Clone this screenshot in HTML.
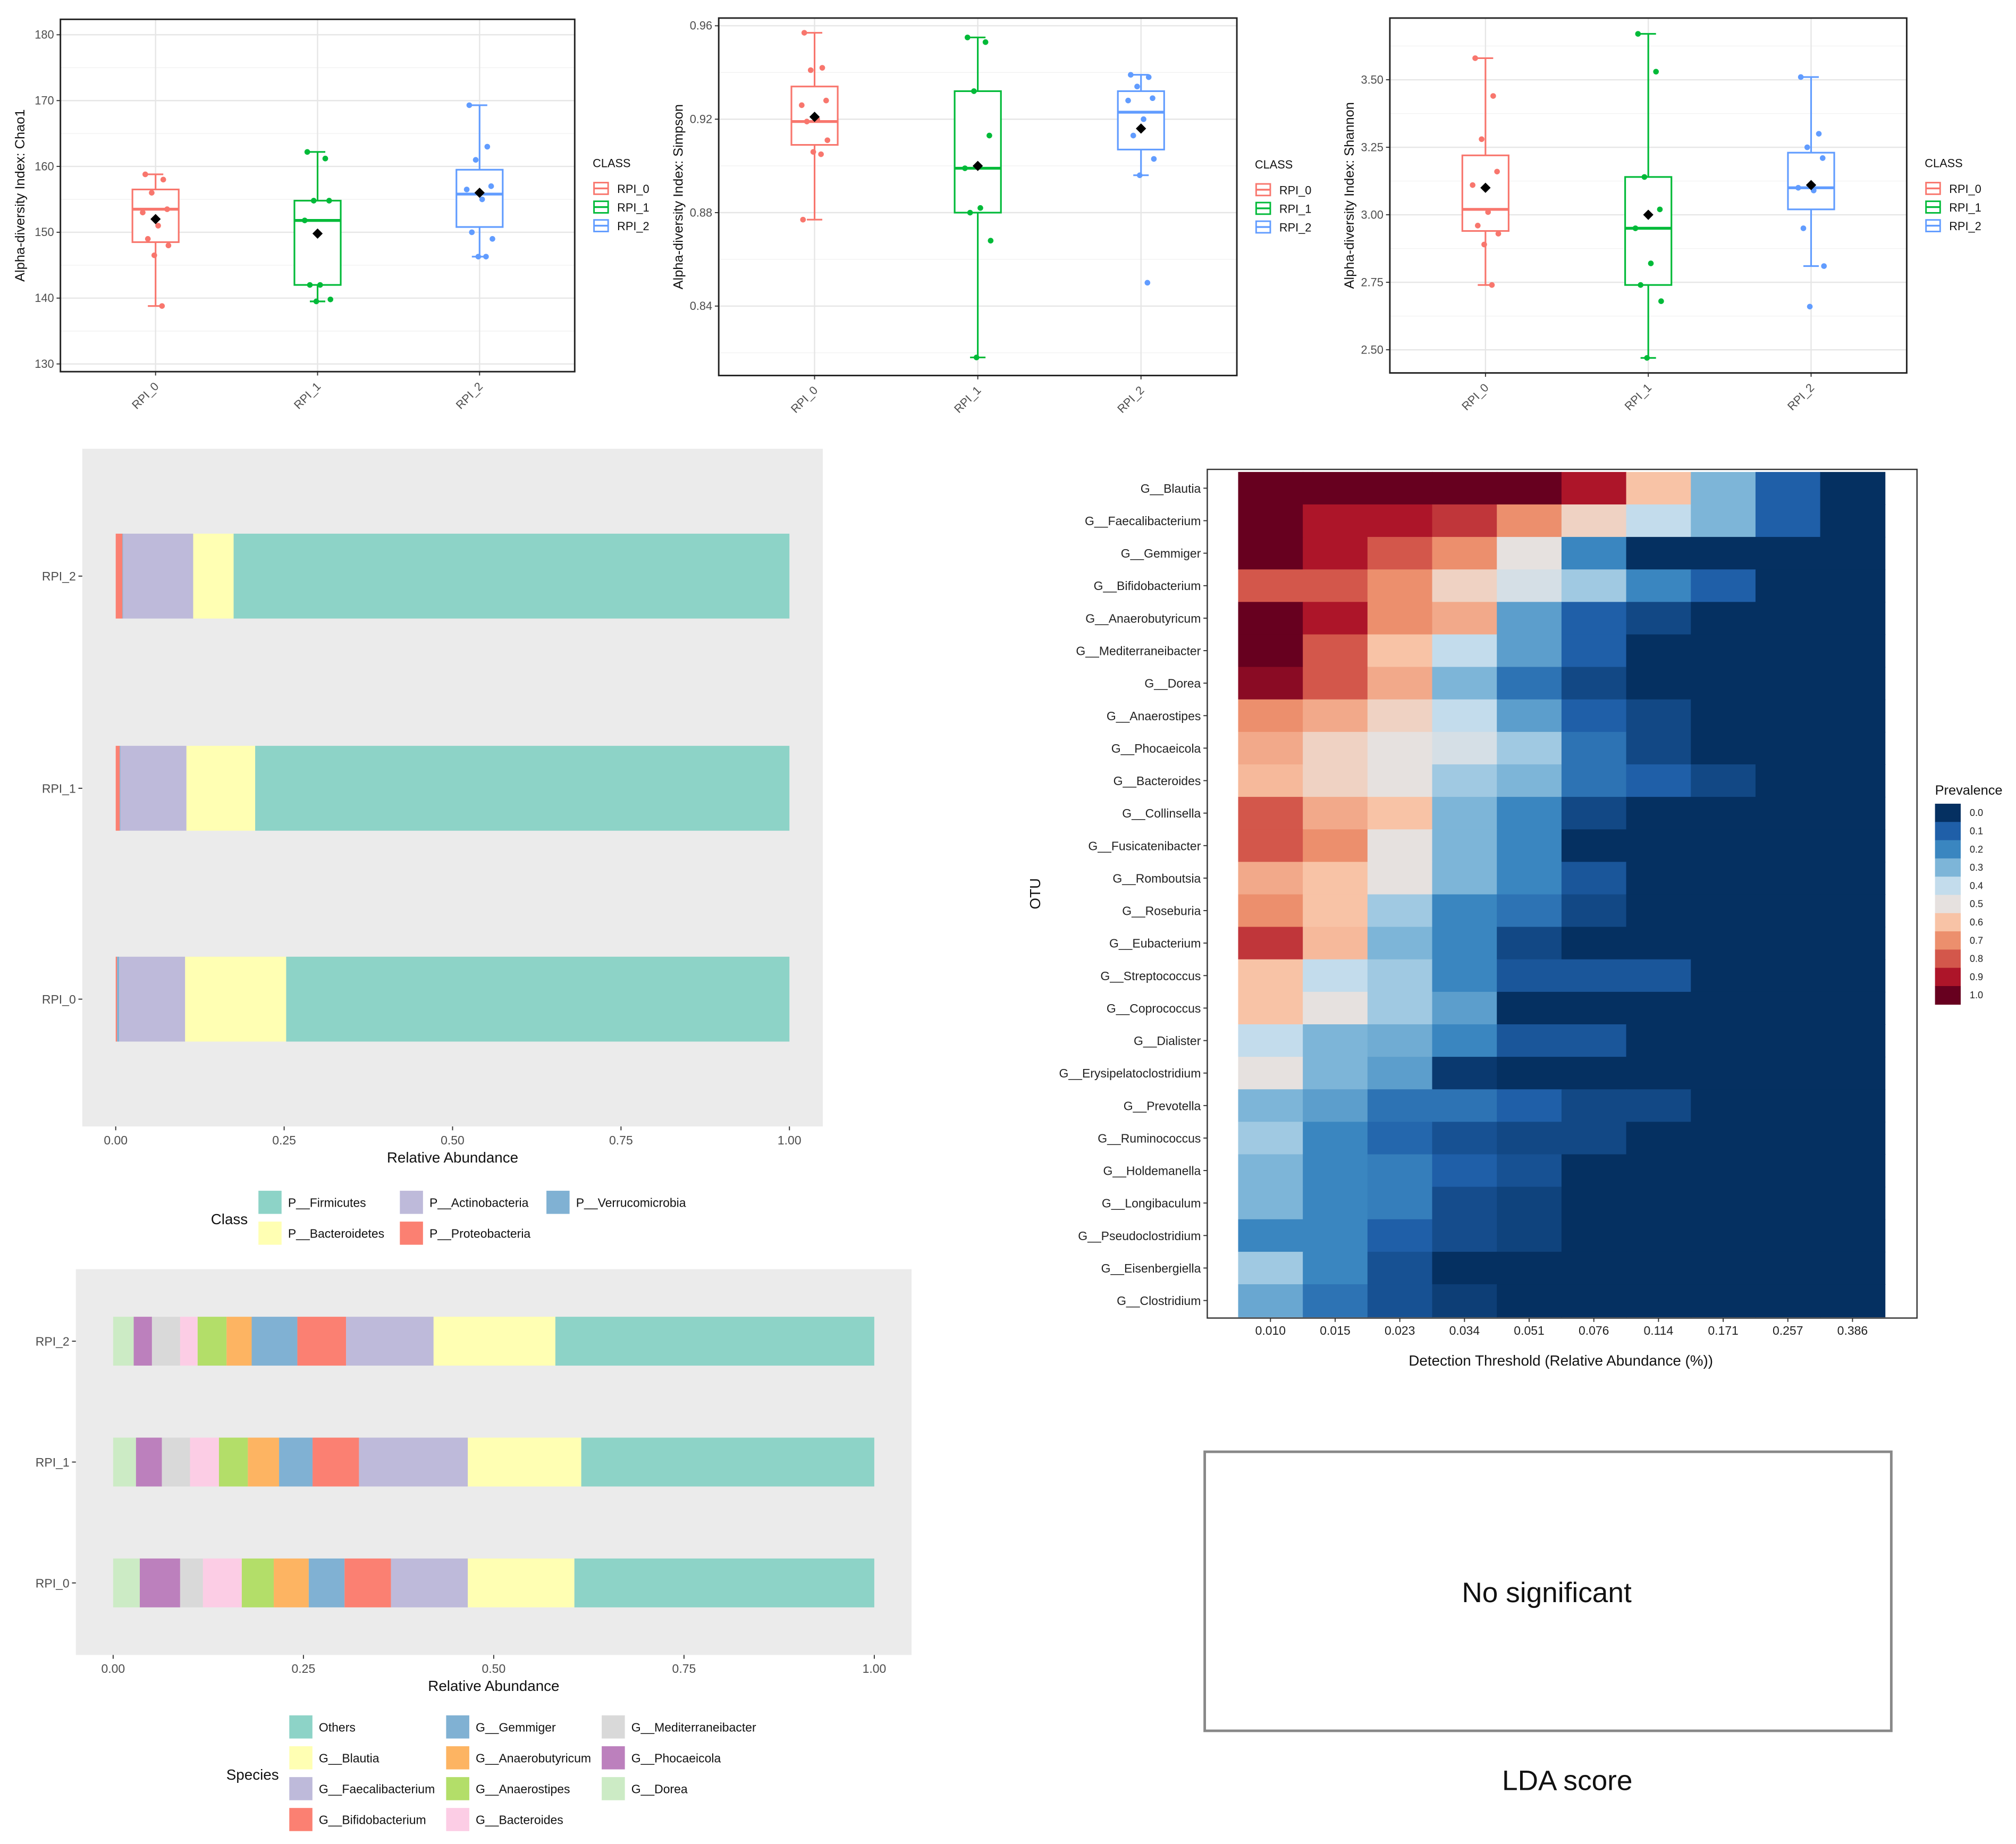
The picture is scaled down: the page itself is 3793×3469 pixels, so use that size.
<!DOCTYPE html>
<html><head><meta charset="utf-8">
<style>
html,body{margin:0;padding:0;background:#fff;}
svg{display:block;font-family:"Liberation Sans",Arial,sans-serif;}
</style></head>
<body>
<svg id="root" xmlns="http://www.w3.org/2000/svg" width="3793" height="3469" viewBox="0 0 1568 1434">
<rect x="0" y="0" width="1568" height="1434" fill="#fff"/>
<g id="box-charts"></g>
<g id="phylum-chart"></g>
<g id="species-chart"></g>
<g id="heatmap"></g>
<g>
<rect x="937" y="1129" width="534" height="217" fill="#fff" stroke="#888" stroke-width="2"/>
<text x="1203" y="1246" font-size="22" text-anchor="middle" fill="#111">No significant</text>
<text x="1219" y="1392" font-size="22" text-anchor="middle" fill="#111">LDA score</text>
</g>
</svg>
<script>
// ---------- DATA ----------
const groups = ["RPI_0","RPI_1","RPI_2"];
const groupColors = ["#F8766D","#00BA38","#619CFF"];
// Chao1
const chaoStats = [[138.8,148.5,153.5,156.5,158.8,152],[139.5,142,151.8,154.8,162.2,149.8],[146.3,150.8,155.8,159.5,169.3,156]];
const chaoPoints = [[158.8,158,156,153.5,153,151,149,148,146.5,138.8],[162.2,161.2,154.8,154.8,151.8,142,142,139.8,139.5],[169.3,163,161,157,156.5,155,150,149,146.3,146.3]];
const chaoTicks = [130,140,150,160,170,180];
// Simpson
const simpStats = [[0.877,0.909,0.919,0.934,0.957,0.921],[0.818,0.880,0.899,0.932,0.955,0.900],[0.896,0.907,0.923,0.932,0.939,0.916]];
const simpPoints = [[0.957,0.942,0.941,0.928,0.926,0.920,0.919,0.911,0.906,0.905,0.877],[0.955,0.953,0.932,0.913,0.899,0.882,0.880,0.868,0.818],[0.939,0.938,0.934,0.929,0.928,0.920,0.913,0.903,0.896,0.850]];
const simpTicks = [0.84,0.88,0.92,0.96];
// Shannon
const shanStats = [[2.74,2.94,3.02,3.22,3.58,3.10],[2.47,2.74,2.95,3.14,3.67,3.00],[2.81,3.02,3.10,3.23,3.51,3.11]];
const shanPoints = [[3.58,3.44,3.28,3.16,3.11,3.01,2.96,2.93,2.89,2.74],[3.67,3.53,3.14,3.02,2.95,2.82,2.74,2.68,2.47],[3.51,3.30,3.25,3.21,3.10,3.09,2.95,2.81,2.66]];
const shanTicks = [2.50,2.75,3.00,3.25,3.50];
// Phylum (cumulative fractions from left)
const phylumNames = ["P__Proteobacteria","P__Verrucomicrobia","P__Actinobacteria","P__Bacteroidetes","P__Firmicutes"];
const phylumColors = ["#FB8072","#80B1D3","#BEBADA","#FFFFB3","#8DD3C7"];
const phylumRows = ["RPI_2","RPI_1","RPI_0"];
const phylumValues = [[0.010,0.001,0.104,0.060,0.825],[0.006,0.001,0.098,0.102,0.793],[0.002,0.003,0.098,0.150,0.747]];
// Species
const speciesNames = ["G__Dorea","G__Phocaeicola","G__Mediterraneibacter","G__Bacteroides","G__Anaerostipes","G__Anaerobutyricum","G__Gemmiger","G__Bifidobacterium","G__Faecalibacterium","G__Blautia","Others"];
const speciesColors = ["#CCEBC5","#BC80BD","#D9D9D9","#FCCDE5","#B3DE69","#FDB462","#80B1D3","#FB8072","#BEBADA","#FFFFB3","#8DD3C7"];
const speciesRows = ["RPI_2","RPI_1","RPI_0"];
const speciesCum = [[0.027,0.051,0.088,0.111,0.149,0.182,0.242,0.306,0.421,0.581,1],[0.030,0.064,0.101,0.139,0.177,0.218,0.262,0.323,0.466,0.615,1],[0.035,0.088,0.118,0.169,0.211,0.257,0.304,0.365,0.466,0.606,1]];
// Heatmap
const otus = ["G__Blautia","G__Faecalibacterium","G__Gemmiger","G__Bifidobacterium","G__Anaerobutyricum","G__Mediterraneibacter","G__Dorea","G__Anaerostipes","G__Phocaeicola","G__Bacteroides","G__Collinsella","G__Fusicatenibacter","G__Romboutsia","G__Roseburia","G__Eubacterium","G__Streptococcus","G__Coprococcus","G__Dialister","G__Erysipelatoclostridium","G__Prevotella","G__Ruminococcus","G__Holdemanella","G__Longibaculum","G__Pseudoclostridium","G__Eisenbergiella","G__Clostridium"];
const thresholds = ["0.010","0.015","0.023","0.034","0.051","0.076","0.114","0.171","0.257","0.386"];
const prevalence = [
[1,1,1,1,1,.9,.6,.3,.1,0],
[1,.9,.9,.85,.7,.55,.4,.3,.1,0],
[1,.9,.8,.7,.5,.2,0,0,0,0],
[.8,.8,.7,.55,.45,.35,.2,.1,0,0],
[1,.9,.7,.65,.25,.1,.05,0,0,0],
[1,.8,.6,.4,.25,.1,0,0,0,0],
[.95,.8,.65,.3,.15,.05,0,0,0,0],
[.7,.65,.55,.4,.25,.1,.05,0,0,0],
[.65,.55,.5,.45,.35,.15,.05,0,0,0],
[.62,.55,.5,.35,.3,.15,.1,.05,0,0],
[.8,.65,.6,.3,.2,.05,0,0,0,0],
[.8,.7,.5,.3,.2,0,0,0,0,0],
[.65,.6,.5,.3,.2,.08,0,0,0,0],
[.7,.6,.35,.2,.15,.05,0,0,0,0],
[.85,.62,.3,.2,.05,0,0,0,0,0],
[.6,.4,.35,.2,.08,.08,.08,0,0,0],
[.6,.5,.35,.25,0,0,0,0,0,0],
[.4,.3,.28,.2,.08,.08,0,0,0,0],
[.5,.3,.25,.02,0,0,0,0,0,0],
[.3,.25,.15,.15,.1,.05,.05,0,0,0],
[.35,.2,.12,.07,.05,.05,0,0,0,0],
[.3,.2,.18,.1,.07,0,0,0,0,0],
[.3,.2,.18,.06,.04,0,0,0,0,0],
[.2,.2,.1,.06,.04,0,0,0,0,0],
[.35,.2,.07,0,0,0,0,0,0,0],
[.27,.15,.07,.03,0,0,0,0,0,0]];
const prevTicks = ["0.0","0.1","0.2","0.3","0.4","0.5","0.6","0.7","0.8","0.9","1.0"];
const palette = ["#053061","#1f5fa8","#3a86c0","#7db5d8","#c3dcec","#e6e1df","#f8c3a6","#ec8f6d","#d3574b","#ad1529","#67001f"];

// ---------- HELPERS ----------
const NS="http://www.w3.org/2000/svg";
function mk(parent,tag,attrs,txt){const e=document.createElementNS(NS,tag);for(const k in attrs)e.setAttribute(k,attrs[k]);if(txt!==undefined)e.textContent=txt;parent.appendChild(e);return e;}
function hex2rgb(h){return [parseInt(h.slice(1,3),16),parseInt(h.slice(3,5),16),parseInt(h.slice(5,7),16)];}
function colorFor(v){const t=Math.max(0,Math.min(1,v))*10;const i=Math.min(9,Math.floor(t));const f=t-i;const a=hex2rgb(palette[i]),b=hex2rgb(palette[i+1]);return "rgb("+a.map((c,k)=>Math.round(c+(b[k]-c)*f)).join(",")+")";}

// ---------- BOXPLOTS ----------
const jit=[-8,6,-3,9,-10,2,-6,10,-1,5,-9];
function boxplot(cfg){
  const g=document.getElementById("box-charts");
  const pg=mk(g,"g",{});
  
  
  const {x0,x1,y0,y1,v0,p0,v1,p1}=cfg;
  const ys=v=>p0+(v-v0)*(p1-p0)/(v1-v0);
  const cx=[x0+(x1-x0)*0.185, x0+(x1-x0)*0.5, x0+(x1-x0)*0.815];
  mk(pg,"rect",{x:x0,y:y0,width:x1-x0,height:y1-y0,fill:"#fff"});
  // minor grids
  for(let i=0;i<cfg.ticks.length+1;i++){const v=cfg.ticks[0]+(i-0.5)*(cfg.ticks[1]-cfg.ticks[0]);const y=ys(v);if(y>y0&&y<y1)mk(pg,"line",{x1:x0,x2:x1,y1:y,y2:y,stroke:"#f2f2f2","stroke-width":0.6});}
  cfg.ticks.forEach(t=>{const y=ys(t);
    const gl=mk(pg,"line",{x1:x0,x2:x1,y1:y,y2:y,stroke:"#e6e6e6","stroke-width":1});
    
    
    mk(pg,"line",{x1:x0-3,x2:x0,y1:y,y2:y,stroke:"#333","stroke-width":0.8});
    const tl=mk(pg,"text",{x:x0-5,y:y+3,"font-size":9,"text-anchor":"end",fill:"#4d4d4d"},cfg.fmt(t));
    
    
  });
  cx.forEach((x,i)=>{
    mk(pg,"line",{x1:x,x2:x,y1:y0,y2:y1,stroke:"#e6e6e6","stroke-width":1});
    mk(pg,"line",{x1:x,x2:x,y1:y1,y2:y1+3,stroke:"#333","stroke-width":0.8});
    const xl=mk(pg,"text",{x:x+3,y:y1+12,"font-size":9,"text-anchor":"end",fill:"#4d4d4d",transform:`rotate(-45 ${x+3} ${y1+12})`},groups[i]);
    
    
  });
  cfg.stats.forEach((s,i)=>{
    const x=cx[i],c=groupColors[i],w=18;
    const bg=mk(pg,"g",{});
    
    
    mk(bg,"line",{x1:x,x2:x,y1:ys(s[0]),y2:ys(s[1]),stroke:c,"stroke-width":1.3});
    mk(bg,"line",{x1:x,x2:x,y1:ys(s[3]),y2:ys(s[4]),stroke:c,"stroke-width":1.3});
    mk(bg,"line",{x1:x-6,x2:x+6,y1:ys(s[0]),y2:ys(s[0]),stroke:c,"stroke-width":1.3});
    mk(bg,"line",{x1:x-6,x2:x+6,y1:ys(s[4]),y2:ys(s[4]),stroke:c,"stroke-width":1.3});
    mk(bg,"rect",{x:x-w,y:ys(s[3]),width:2*w,height:ys(s[1])-ys(s[3]),fill:"#fff",stroke:c,"stroke-width":1.3});
    mk(bg,"line",{x1:x-w,x2:x+w,y1:ys(s[2]),y2:ys(s[2]),stroke:c,"stroke-width":2.2});
    cfg.points[i].forEach((v,j)=>{
      const p=mk(bg,"circle",{cx:x+jit[j%jit.length],cy:ys(v),r:2.2,fill:c});
      
      
    });
    const m=ys(s[5]);
    const d=mk(bg,"polygon",{points:`${x},${m-4} ${x+4},${m} ${x},${m+4} ${x-4},${m}`,fill:"#000"});
    
    
  });
  mk(pg,"rect",{x:x0,y:y0,width:x1-x0,height:y1-y0,fill:"none",stroke:"#222","stroke-width":1.2});
  const yt=mk(pg,"text",{x:0,y:0,"font-size":10.5,"text-anchor":"middle",fill:"#111",transform:`translate(${x0-28} ${(y0+y1)/2}) rotate(-90)`},cfg.ylab);
  
  
  const lx=cfg.lx, ly=cfg.ly;
  const lt=mk(pg,"text",{x:lx,y:ly,"font-size":9,fill:"#111"},"CLASS");
  
  
  groups.forEach((gn,i)=>{
    const yy=ly+17+i*14.5;
    const le=mk(pg,"g",{});
    
    
    mk(le,"rect",{x:lx+1,y:yy-5,width:11,height:9,fill:"#fff",stroke:groupColors[i],"stroke-width":1.2});
    mk(le,"line",{x1:lx+1,x2:lx+12,y1:yy-0.5,y2:yy-0.5,stroke:groupColors[i],"stroke-width":1.4});
    mk(le,"text",{x:lx+19,y:yy+3,"font-size":9,fill:"#111"},gn);
  });
}
boxplot({name:"chao1-boxplot",x0:47,x1:447,y0:15,y1:289,v0:130,p0:283,v1:180,p1:27,ticks:chaoTicks,stats:chaoStats,points:chaoPoints,fmt:t=>String(t),ylab:"Alpha-diversity Index: Chao1",lx:461,ly:130});
boxplot({name:"simpson-boxplot",x0:559,x1:962,y0:14,y1:292,v0:0.84,p0:238,v1:0.96,p1:20,ticks:simpTicks,stats:simpStats,points:simpPoints,fmt:t=>t.toFixed(2),ylab:"Alpha-diversity Index: Simpson",lx:976,ly:131});
boxplot({name:"shannon-boxplot",x0:1081,x1:1483,y0:14,y1:290,v0:2.5,p0:272,v1:3.5,p1:62,ticks:shanTicks,stats:shanStats,points:shanPoints,fmt:t=>t.toFixed(2),ylab:"Alpha-diversity Index: Shannon",lx:1497,ly:130});

// ---------- STACKED BARS ----------
function stacked(cfg){
  const g=document.getElementById(cfg.id);
  const {x0,x1,y0,y1,a0,a1}=cfg;
  const xs=v=>a0+v*(a1-a0);
  const bgp=mk(g,"rect",{x:x0,y:y0,width:x1-x0,height:y1-y0,fill:"#ebebeb"});
  
  
  cfg.rows.forEach((r,i)=>{
    const cy=cfg.rowY[i];
    const rg=mk(g,"g",{});
    
    
    let prev=0;
    cfg.cum[i].forEach((c,k)=>{
      const s=mk(rg,"rect",{x:xs(prev),y:cy-cfg.bh/2,width:Math.max(0,xs(c)-xs(prev)),height:cfg.bh,fill:cfg.colors[k]});
      
      
      prev=c;
    });
    mk(g,"line",{x1:x0-3,x2:x0,y1:cy,y2:cy,stroke:"#333","stroke-width":0.8});
    const l=mk(g,"text",{x:x0-5,y:cy+3.5,"font-size":9.5,"text-anchor":"end",fill:"#4d4d4d"},r);
    
    
  });
  [0,0.25,0.5,0.75,1].forEach(t=>{
    mk(g,"line",{x1:xs(t),x2:xs(t),y1:y1,y2:y1+3,stroke:"#333","stroke-width":0.8});
    const l=mk(g,"text",{x:xs(t),y:y1+14,"font-size":9.5,"text-anchor":"middle",fill:"#4d4d4d"},t.toFixed(2));
    
    
  });
  const xt=mk(g,"text",{x:cfg.titleX,y:y1+28,"font-size":11.5,"text-anchor":"middle",fill:"#111"},"Relative Abundance");
  
  
  const lt=mk(g,"text",{x:cfg.legTitle[0],y:cfg.legTitle[1],"font-size":11.5,fill:"#111"},cfg.legName);
  
  
  cfg.legend.forEach(e=>{
    const le=mk(g,"g",{});
    
    
    mk(le,"rect",{x:e[0],y:e[1]-9,width:18,height:18,fill:cfg.colors[e[2]]});
    mk(le,"text",{x:e[0]+23,y:e[1]+3.5,"font-size":9.5,fill:"#111"},cfg.names[e[2]]);
  });
}
const phylumCum=phylumValues.map(r=>{let s=0;return r.map(v=>(s+=v,Math.min(1,s)));});
stacked({id:"phylum-chart",x0:64,x1:640,y0:349,y1:876,a0:90,a1:614,rows:phylumRows,rowY:[448,613,777],bh:66,cum:phylumCum,colors:phylumColors,names:phylumNames,titleX:352,legName:"Class",legTitle:[164,952],
  legend:[[201,935,4],[311,935,2],[425,935,1],[201,959,3],[311,959,0]]});
stacked({id:"species-chart",x0:59,x1:709,y0:987,y1:1287,a0:88,a1:680,rows:speciesRows,rowY:[1043,1137,1231],bh:38,cum:speciesCum,colors:speciesColors,names:speciesNames,titleX:384,legName:"Species",legTitle:[176,1384],
  legend:[[225,1343,10],[225,1367,9],[225,1391,8],[225,1415,7],[347,1343,6],[347,1367,5],[347,1391,4],[347,1415,3],[468,1343,2],[468,1367,1],[468,1391,0]]});

// ---------- HEATMAP ----------
(function(){
  const g=document.getElementById("heatmap");
  const hx0=963,hx1=1466,hy0=367,hy1=1024;
  const cw=(hx1-hx0)/thresholds.length, ch=(hy1-hy0)/otus.length;
  mk(g,"rect",{x:939,y:365,width:552,height:660,fill:"#fff",stroke:"#333","stroke-width":1});
  otus.forEach((o,i)=>{
    const cy=hy0+ch*(i+0.5);
    prevalence[i].forEach((v,j)=>{
      const c=mk(g,"rect",{x:hx0+cw*j,y:hy0+ch*i,width:cw+0.4,height:ch+0.4,fill:colorFor(v)});
      
      
    });
    mk(g,"line",{x1:936,x2:939,y1:cy,y2:cy,stroke:"#333","stroke-width":0.8});
    const l=mk(g,"text",{x:934,y:cy+3.5,"font-size":9.5,"text-anchor":"end",fill:"#222"},o);
    
    
  });
  thresholds.forEach((t,j)=>{
    const x=hx0+cw*(j+0.5);
    mk(g,"line",{x1:x,x2:x,y1:1025,y2:1028,stroke:"#333","stroke-width":0.8});
    const l=mk(g,"text",{x:x,y:1038,"font-size":9.5,"text-anchor":"middle",fill:"#222"},t);
    
    
  });
  const xt=mk(g,"text",{x:1214,y:1062,"font-size":11.5,"text-anchor":"middle",fill:"#111"},"Detection Threshold (Relative Abundance (%))");
  
  
  const yt=mk(g,"text",{x:0,y:0,"font-size":11.5,"text-anchor":"middle",fill:"#111",transform:"translate(809 695) rotate(-90)"},"OTU");
  
  
  const lt=mk(g,"text",{x:1505,y:618,"font-size":10.5,fill:"#111"},"Prevalence");
  
  
  const bh=(781-625)/prevTicks.length;
  prevTicks.forEach((t,i)=>{
    const y=625+bh*i;
    const b=mk(g,"rect",{x:1505,y:y,width:20,height:bh+0.3,fill:colorFor(parseFloat(t))});
    
    
    const l=mk(g,"text",{x:1532,y:y+bh/2+2.5,"font-size":7.5,fill:"#222"},t);
    
    
  });
})();
</script>
</body></html>
